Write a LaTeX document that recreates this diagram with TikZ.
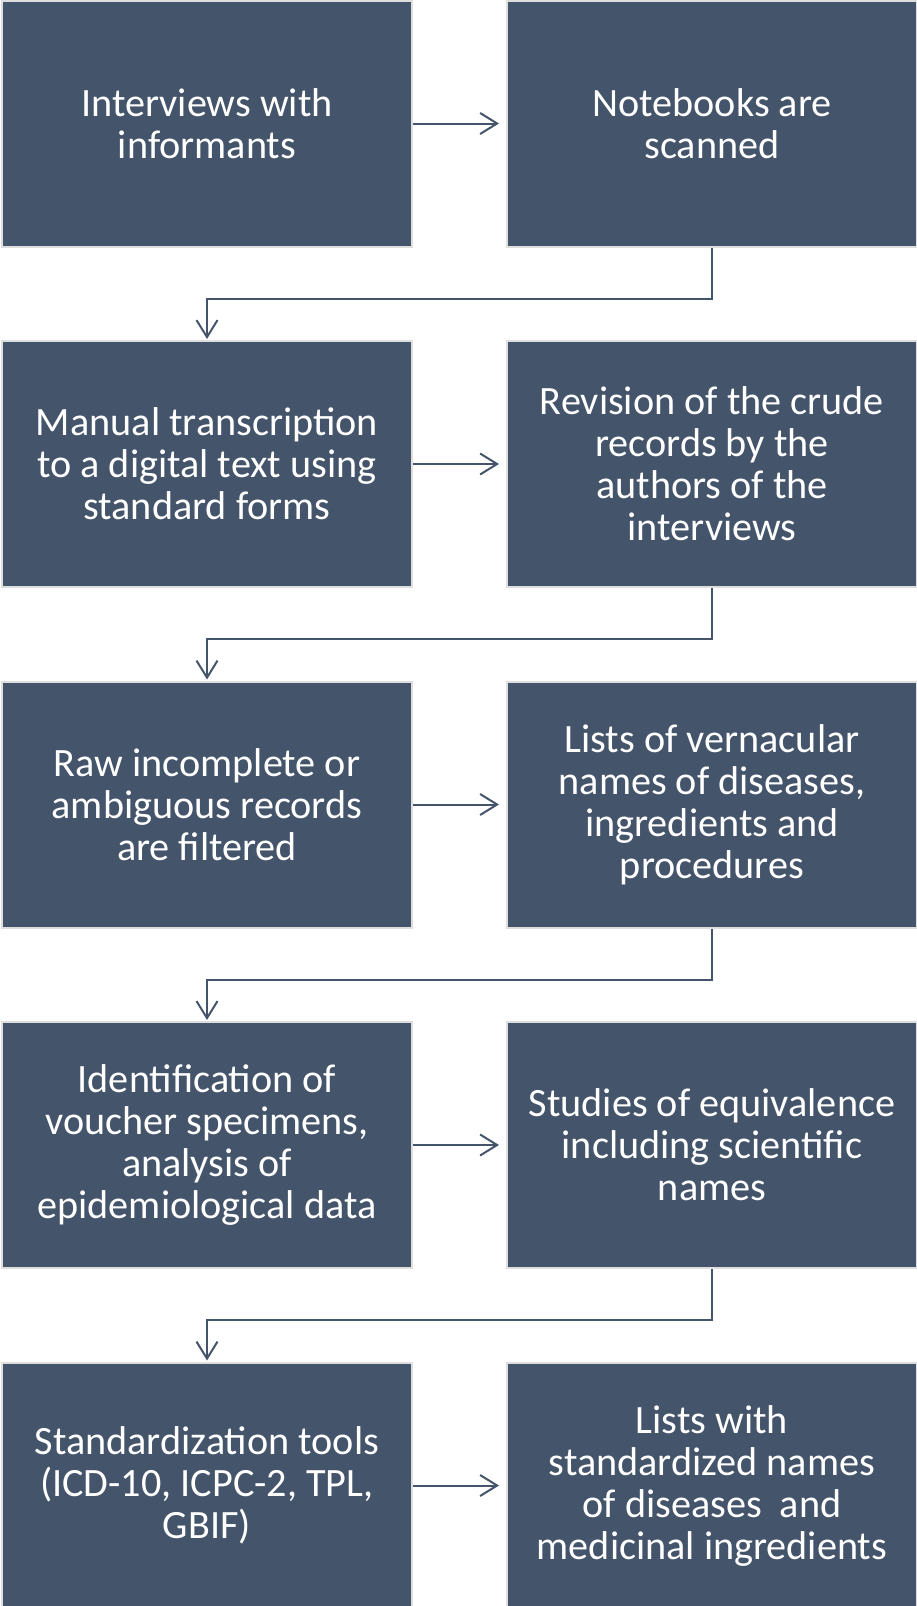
\documentclass[tikz,border=0pt]{standalone}
\usepackage{fontspec}
\setmainfont{Carlito}
\usepackage{xcolor}
\usepackage{tikz}
\usetikzlibrary{arrows.meta,positioning,calc}
\definecolor{stepblue}{HTML}{44546A}
\definecolor{stepedge}{HTML}{DEDEDE}
\tikzset{
  stepbox/.style={draw=stepedge, line width=2pt, fill=stepblue, text=white,
    minimum width=410pt, minimum height=246pt, inner sep=0pt, align=center,
    font=\fontsize{40.2}{42}\selectfont},
  flow/.style={draw=stepblue, line width=2pt,
    -{Straight Barb[length=17pt,width=21pt,line width=2pt]}}
}

\begin{document}
\begin{tikzpicture}[x=1pt,y=1pt]
\useasboundingbox (0,0) rectangle (916,-1606);

%row 1
\node[stepbox] (interviews) at (207,-123.5) {Interviews with\\informants};
\node[stepbox] (scanned) at (712,-123.5) {Notebooks are\\scanned};

%row 2
\node[stepbox] (transcr) at (207,-464) {Manual transcription\\to a digital text using\\standard forms};
\node[stepbox] (revision) at (712,-464) {Revision of the crude\\records by the\\authors of the\\interviews};

%row 3
\node[stepbox] (filtered) at (207,-804.5) {Raw incomplete or\\ambiguous records\\are filtered};
\node[stepbox] (lists) at (712,-804.5) {Lists of vernacular\\names of diseases,\\ingredients and\\procedures};

%row 4
\node[stepbox] (ident) at (207,-1145) {Identification of\\voucher specimens,\\analysis of\\epidemiological data};
\node[stepbox] (equiv) at (712,-1145) {Studies of equivalence\\including scientific\\names};

%row 5
\node[stepbox] (tools) at (207,-1485.5) {Standardization tools\\(ICD-10, ICPC-2, TPL,\\GBIF)};
\node[stepbox] (stdnames) at (712,-1485.5) {Lists with\\standardized names\\of diseases~ and\\medicinal ingredients};

%arrows
\draw[flow, shorten >=7pt] (interviews.east) -- (scanned.west);
\draw[flow, shorten >=7pt] (transcr.east) -- (revision.west);
\draw[flow, shorten >=7pt] (filtered.east) -- (lists.west);
\draw[flow, shorten >=7pt] (ident.east) -- (equiv.west);
\draw[flow, shorten >=7pt] (tools.east) -- (stdnames.west);

\draw[flow, shorten >=1pt] (scanned.south) -- ++(0,-51) -| (transcr.north);
\draw[flow, shorten >=1pt] (revision.south) -- ++(0,-51) -| (filtered.north);
\draw[flow, shorten >=1pt] (lists.south) -- ++(0,-51) -| (ident.north);
\draw[flow, shorten >=1pt] (equiv.south) -- ++(0,-51) -| (tools.north);
\end{tikzpicture}
\end{document}
